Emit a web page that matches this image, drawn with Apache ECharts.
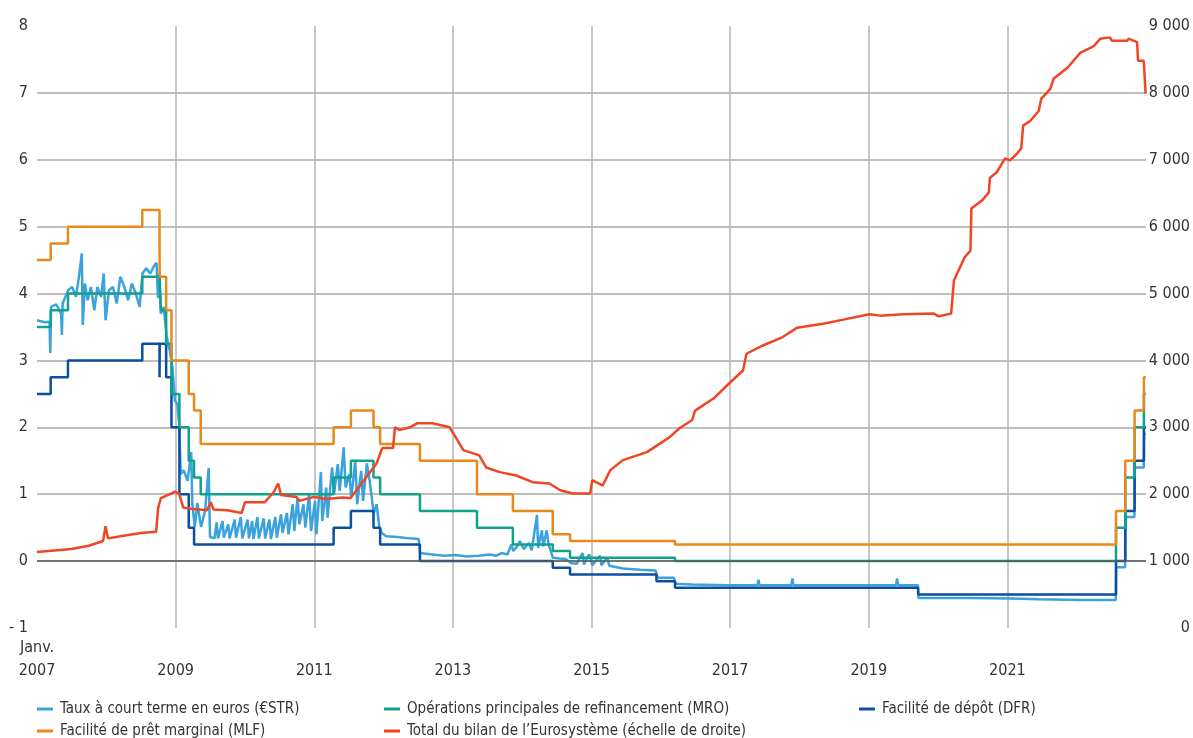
<!DOCTYPE html>
<html>
<head>
<meta charset="utf-8">
<script src="https://cdn.jsdelivr.net/npm/echarts@6/dist/echarts.min.js"></script>
<style>
  html, body { margin: 0; padding: 0; background: #fff; }
  #chart { width: 1193px; height: 738px; }
</style>
</head>
<body>
<div id="chart"></div>
<script>
// taux directeurs : dates de changement et niveaux (%)
const rateDates = ['2007-01-01', '2007-03-14', '2007-06-13', '2008-07-09', '2008-10-08', '2008-10-09', '2008-10-15',
  '2008-11-12', '2008-12-10', '2009-01-21', '2009-03-11', '2009-04-08', '2009-05-13', '2011-04-13', '2011-07-13',
  '2011-11-09', '2011-12-14', '2012-07-11', '2013-05-08', '2013-11-13', '2014-06-11', '2014-09-10', '2015-12-09',
  '2016-03-16', '2019-09-18', '2022-07-27', '2022-09-14', '2022-11-02', '2022-12-21', '2022-12-31']
const mroRates = [3.50, 3.75, 4.00, 4.25, 4.25, 4.25, 3.75, 3.25, 2.50, 2.00, 1.50, 1.25, 1.00, 1.25, 1.50,
  1.25, 1.00, 0.75, 0.50, 0.25, 0.15, 0.05, 0.05, 0.00, 0.00, 0.50, 1.25, 2.00, 2.50, 2.50]
const dfrRates = [2.50, 2.75, 3.00, 3.25, 2.75, 3.25, 3.25, 2.75, 2.00, 1.00, 0.50, 0.25, 0.25, 0.50, 0.75,
  0.50, 0.25, 0.00, 0.00, 0.00, -0.10, -0.20, -0.30, -0.40, -0.50, 0.00, 0.75, 1.50, 2.00, 2.00]
const mlfRates = [4.50, 4.75, 5.00, 5.25, 4.75, 4.25, 4.25, 3.75, 3.00, 3.00, 2.50, 2.25, 1.75, 2.00, 2.25,
  2.00, 1.75, 1.50, 1.00, 0.75, 0.40, 0.30, 0.30, 0.25, 0.25, 0.75, 1.50, 2.25, 2.75, 2.75]

// taux à court terme (€STR, rétropolé)
const strDates = ['2007-01-01', '2007-02-10', '2007-03-08', '2007-03-12', '2007-03-16', '2007-04-12', '2007-05-08',
  '2007-05-12', '2007-05-16', '2007-06-14', '2007-07-05', '2007-07-25', '2007-08-10', '2007-08-25', '2007-08-30',
  '2007-09-10', '2007-09-25', '2007-10-12', '2007-10-30', '2007-11-15', '2007-12-05', '2007-12-18', '2007-12-28',
  '2008-01-15', '2008-02-05', '2008-02-25', '2008-03-15', '2008-04-05', '2008-04-25', '2008-05-15', '2008-06-05',
  '2008-06-25', '2008-07-10', '2008-07-30', '2008-08-20', '2008-09-10', '2008-09-22', '2008-09-30', '2008-10-07',
  '2008-10-15', '2008-10-30', '2008-11-15', '2008-12-01', '2008-12-15', '2008-12-28', '2009-01-10', '2009-01-20',
  '2009-01-28', '2009-02-12', '2009-03-05', '2009-03-24', '2009-03-30', '2009-04-12', '2009-04-25', '2009-05-15',
  '2009-06-05', '2009-06-24', '2009-07-01', '2009-07-25', '2009-08-05', '2009-08-12', '2009-09-05', '2009-09-12',
  '2009-10-05', '2009-10-12', '2009-11-08', '2009-11-15', '2009-12-10', '2009-12-18', '2010-01-15', '2010-01-22',
  '2010-02-08', '2010-02-15', '2010-03-08', '2010-03-15', '2010-04-10', '2010-04-17', '2010-05-10', '2010-05-18',
  '2010-06-10', '2010-06-18', '2010-07-10', '2010-07-18', '2010-08-10', '2010-08-18', '2010-09-10', '2010-09-18',
  '2010-10-05', '2010-10-15', '2010-11-05', '2010-11-15', '2010-12-05', '2010-12-15', '2011-01-05', '2011-01-12',
  '2011-02-05', '2011-02-12', '2011-03-05', '2011-03-12', '2011-04-05', '2011-04-15', '2011-05-05', '2011-05-15',
  '2011-06-05', '2011-06-15', '2011-07-05', '2011-07-15', '2011-08-05', '2011-08-15', '2011-09-05', '2011-09-15',
  '2011-10-05', '2011-10-20', '2011-11-10', '2011-11-25', '2011-12-10', '2011-12-22', '2012-01-15', '2012-03-15',
  '2012-05-15', '2012-07-05', '2012-07-12', '2012-09-15', '2012-11-15', '2013-01-15', '2013-03-15', '2013-05-15',
  '2013-07-15', '2013-08-15', '2013-09-15', '2013-10-15', '2013-11-05', '2013-11-15', '2013-12-05', '2013-12-20',
  '2014-01-10', '2014-02-05', '2014-02-20', '2014-03-20', '2014-03-26', '2014-04-15', '2014-04-22', '2014-05-10',
  '2014-05-20', '2014-06-12', '2014-07-15', '2014-08-20', '2014-09-15', '2014-10-15', '2014-11-15', '2014-11-22',
  '2014-12-20', '2015-01-05', '2015-02-15', '2015-02-22', '2015-03-25', '2015-04-05', '2015-06-15', '2015-09-15',
  '2015-12-05', '2015-12-15', '2016-03-10', '2016-03-20', '2016-06-15', '2016-12-20', '2017-05-25', '2017-05-30',
  '2017-06-05', '2017-11-20', '2017-11-25', '2017-11-30', '2019-05-25', '2019-05-30', '2019-06-05', '2019-09-17',
  '2019-09-20', '2020-06-15', '2021-01-15', '2021-06-15', '2022-01-15', '2022-07-26', '2022-07-28', '2022-09-13',
  '2022-09-15', '2022-11-01', '2022-11-03', '2022-12-20', '2022-12-22', '2022-12-31']
const strValues = [3.60, 3.57, 3.58, 3.11, 3.80, 3.84, 3.70,
  3.38, 3.85, 4.05, 4.10, 3.95, 4.25, 4.60, 3.53,
  4.15, 3.90, 4.10, 3.75, 4.10, 3.95, 4.30, 3.60,
  4.05, 4.10, 3.85, 4.25, 4.10, 3.90, 4.15, 4.00,
  3.80, 4.30, 4.38, 4.30, 4.42, 4.46, 3.93, 4.30,
  3.70, 3.80, 3.35, 3.15, 2.90, 2.40, 2.35, 2.05,
  1.30, 1.36, 1.20, 1.63, 0.85, 0.51, 0.87, 0.51,
  0.75, 1.39, 0.36, 0.34, 0.58, 0.34, 0.60, 0.35,
  0.55, 0.34, 0.62, 0.35, 0.66, 0.34, 0.62, 0.34,
  0.60, 0.33, 0.66, 0.34, 0.64, 0.34, 0.62, 0.33,
  0.66, 0.35, 0.70, 0.42, 0.72, 0.40, 0.85, 0.45,
  0.95, 0.55, 0.85, 0.50, 1.00, 0.45, 0.90, 0.40,
  1.33, 0.60, 1.10, 0.65, 1.40, 1.00, 1.45, 1.05,
  1.70, 1.10, 1.30, 0.95, 1.50, 0.85, 1.35, 0.90,
  1.46, 1.20, 0.71, 0.85, 0.51, 0.42, 0.37, 0.36,
  0.34, 0.33, 0.12, 0.10, 0.08, 0.09, 0.07, 0.08,
  0.10, 0.08, 0.12, 0.10, 0.25, 0.15, 0.22, 0.30,
  0.18, 0.27, 0.16, 0.69, 0.20, 0.46, 0.22, 0.46,
  0.25, 0.05, 0.04, 0.03, -0.03, -0.04, 0.12, -0.05,
  0.10, -0.06, 0.08, -0.06, 0.05, -0.07, -0.11, -0.13,
  -0.14, -0.25, -0.25, -0.34, -0.35, -0.36, -0.36, -0.28,
  -0.36, -0.36, -0.26, -0.36, -0.36, -0.26, -0.36, -0.36,
  -0.55, -0.55, -0.56, -0.57, -0.58, -0.58, -0.09, -0.09,
  0.66, 0.66, 1.40, 1.40, 1.90, 1.90]

// total du bilan de l'Eurosystème (milliards d'euros, échelle de droite)
const bilanDates = ['2007-01-01', '2007-04-01', '2007-07-01', '2007-10-01', '2007-12-15', '2007-12-28', '2008-01-10',
  '2008-04-01', '2008-07-01', '2008-09-20', '2008-10-01', '2008-10-15', '2008-12-31', '2009-01-20', '2009-02-10',
  '2009-04-01', '2009-06-15', '2009-07-05', '2009-07-20', '2009-10-01', '2009-12-15', '2010-01-01', '2010-04-15',
  '2010-06-01', '2010-06-25', '2010-07-10', '2010-09-30', '2010-10-15', '2010-12-31', '2011-03-01', '2011-06-01',
  '2011-07-10', '2011-10-01', '2011-11-25', '2011-12-25', '2012-02-20', '2012-03-01', '2012-03-25', '2012-05-20',
  '2012-06-25', '2012-09-15', '2012-12-15', '2013-01-25', '2013-02-25', '2013-05-20', '2013-06-25', '2013-09-05',
  '2013-12-01', '2014-02-25', '2014-05-25', '2014-07-20', '2014-09-25', '2014-12-25', '2015-01-05', '2015-03-01',
  '2015-04-10', '2015-06-15', '2015-10-20', '2016-02-15', '2016-04-10', '2016-06-15', '2016-06-30', '2016-10-05',
  '2017-01-01', '2017-03-10', '2017-03-28', '2017-06-20', '2017-10-05', '2017-12-20', '2018-05-05', '2018-08-20',
  '2019-01-05', '2019-03-01', '2019-07-01', '2019-12-10', '2020-01-05', '2020-03-10', '2020-03-25', '2020-05-20',
  '2020-06-20', '2020-06-25', '2020-08-20', '2020-09-25', '2020-10-01', '2020-11-05', '2020-12-20', '2021-01-15',
  '2021-02-20', '2021-03-15', '2021-03-25', '2021-05-01', '2021-06-15', '2021-06-28', '2021-08-15', '2021-09-01',
  '2021-11-15', '2022-01-20', '2022-04-01', '2022-05-05', '2022-06-25', '2022-07-05', '2022-09-25', '2022-10-01',
  '2022-11-15', '2022-11-20', '2022-12-20', '2022-12-30']
const bilanValues = [1135, 1160, 1180, 1230, 1300, 1520, 1340,
  1380, 1420, 1440, 1800, 1940, 2040, 2000, 1800,
  1780, 1760, 1880, 1770, 1760, 1720, 1880, 1880,
  2030, 2160, 1990, 1960, 1900, 1960, 1930, 1950,
  1940, 2250, 2460, 2690, 2690, 3000, 2960, 3000,
  3060, 3060, 3000, 2810, 2660, 2580, 2400, 2330,
  2280, 2180, 2160, 2060, 2010, 2010, 2210, 2130,
  2360, 2510, 2630, 2850, 2990, 3110, 3250, 3430,
  3670, 3850, 4100, 4220, 4350, 4490, 4550, 4610,
  4690, 4670, 4690, 4700, 4660, 4700, 5200, 5540,
  5640, 6270, 6390, 6510, 6730, 6810, 7020, 6990,
  7090, 7170, 7510, 7580, 7730, 7910, 8060, 8210,
  8380, 8600, 8700, 8810, 8830, 8780, 8780, 8810,
  8760, 8480, 8480, 7990]

const names = {
  str: 'Taux à court terme en euros (€STR)',
  mro: 'Opérations principales de refinancement (MRO)',
  dfr: 'Facilité de dépôt (DFR)',
  mlf: 'Facilité de prêt marginal (MLF)',
  bilan: 'Total du bilan de l’Eurosystème (échelle de droite)'
}

const font = "'Liberation Sans Narrow', 'DejaVu Sans Condensed', 'Arial Narrow', sans-serif"
const textColor = '#333333'

// date -> année décimale pour l'axe des abscisses
function toYear(s) {
  const d = Date.parse(s + 'T00:00:00Z')
  const y = Number(s.slice(0, 4))
  const start = Date.UTC(y, 0, 1)
  const end = Date.UTC(y + 1, 0, 1)
  return y + (d - start) / (end - start)
}

function pairs(dates, values) {
  return dates.map((d, i) => [toYear(d), values[i]])
}

function thousands(v) {
  return String(v).replace(/\B(?=(\d{3})+(?!\d))/g, ' ')
}

// une légende par entrée, placée comme dans l'original (3 colonnes, 2 lignes)
function legendItem(name, left, top) {
  return {
    left: left,
    top: top,
    padding: 0,
    itemWidth: 16,
    itemHeight: 3,
    icon: 'rect',
    selectedMode: false,
    data: [name],
    textStyle: { fontFamily: font, fontSize: 15, lineHeight: 20, color: textColor, padding: [0, 0, 0, 2] }
  }
}

const chart = echarts.init(document.getElementById('chart'), null, { renderer: 'canvas' })

const option = {
  animation: false,
  backgroundColor: '#ffffff',
  grid: { left: 37, right: 47, top: 26, bottom: 110, containLabel: false },
  legend: [
    legendItem(names.str, 37, 699),
    legendItem(names.mro, 384, 699),
    legendItem(names.dfr, 859, 699),
    legendItem(names.mlf, 37, 721),
    legendItem(names.bilan, 384, 721)
  ],
  xAxis: {
    type: 'value',
    min: 2007,
    max: 2023,
    interval: 2,
    axisLine: { show: false },
    axisTick: { show: false },
    axisLabel: {
      fontFamily: font,
      fontSize: 16,
      lineHeight: 23,
      color: textColor,
      margin: 8,
      showMaxLabel: false,
      formatter: v => (v === 2007 ? 'Janv.\n2007' : '\n' + v)
    },
    splitLine: {
      show: true,
      showMinLine: false,
      showMaxLine: false,
      lineStyle: { color: '#b4b4b4', width: 1.5 }
    }
  },
  yAxis: [
    {
      type: 'value',
      min: -1,
      max: 8,
      interval: 1,
      axisLine: { show: false },
      axisTick: { show: false },
      axisLabel: {
        fontFamily: font,
        fontSize: 16,
        color: textColor,
        margin: 9,
        formatter: v => (v < 0 ? '- ' + Math.abs(v) : String(v))
      },
      splitLine: {
        show: true,
        showMinLine: false,
        showMaxLine: false,
        lineStyle: { color: '#a8a8a8', width: 1.5 }
      }
    },
    {
      type: 'value',
      min: 0,
      max: 9000,
      interval: 1000,
      position: 'right',
      axisLine: { show: false },
      axisTick: { show: false },
      splitLine: { show: false },
      axisLabel: {
        fontFamily: font,
        fontSize: 16,
        color: textColor,
        margin: 44,
        align: 'right',
        formatter: v => thousands(v)
      }
    }
  ],
  series: [
    {
      name: names.str,
      type: 'line',
      data: pairs(strDates, strValues),
      showSymbol: false,
      color: '#3aa3dd',
      lineStyle: { width: 2.5, color: '#3aa3dd' },
      markLine: {
        silent: true,
        symbol: 'none',
        label: { show: false },
        lineStyle: { color: '#5a5a5a', width: 1.5, type: 'solid' },
        data: [{ yAxis: 0 }]
      },
      z: 2
    },
    {
      name: names.dfr,
      type: 'line',
      step: 'end',
      data: pairs(rateDates, dfrRates),
      showSymbol: false,
      color: '#0b4ea2',
      lineStyle: { width: 2.5, color: '#0b4ea2' },
      z: 3
    },
    {
      name: names.mro,
      type: 'line',
      step: 'end',
      data: pairs(rateDates, mroRates),
      showSymbol: false,
      color: '#12a28c',
      lineStyle: { width: 2.5, color: '#12a28c' },
      z: 4
    },
    {
      name: names.mlf,
      type: 'line',
      step: 'end',
      data: pairs(rateDates, mlfRates),
      showSymbol: false,
      color: '#e8891c',
      lineStyle: { width: 2.5, color: '#e8891c' },
      z: 5
    },
    {
      name: names.bilan,
      type: 'line',
      yAxisIndex: 1,
      data: pairs(bilanDates, bilanValues),
      showSymbol: false,
      color: '#ef4524',
      lineStyle: { width: 2.5, color: '#ef4524' },
      z: 6
    }
  ]
}

chart.setOption(option)
</script>
</body>
</html>
